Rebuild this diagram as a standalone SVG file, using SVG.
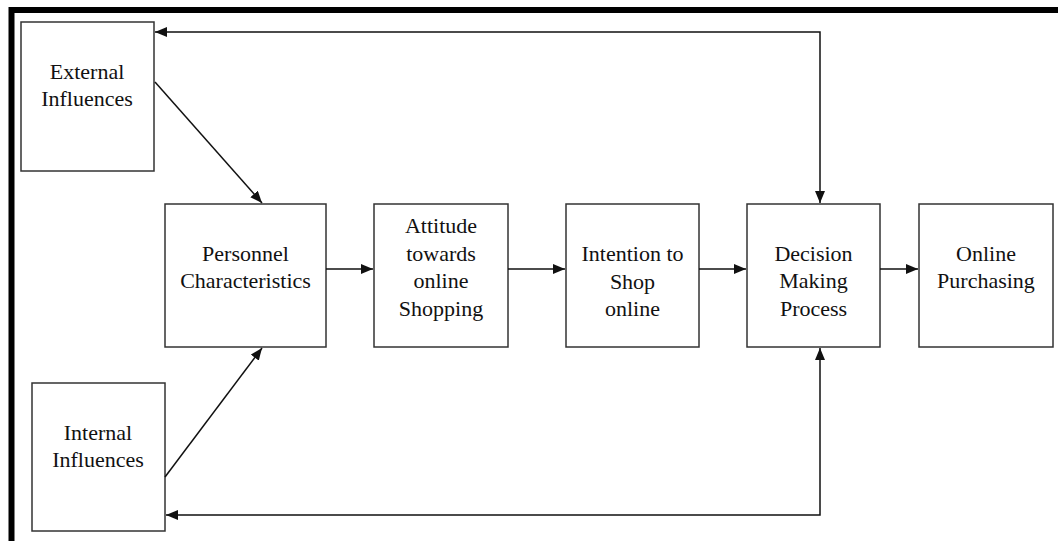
<svg xmlns="http://www.w3.org/2000/svg" width="1058" height="541" viewBox="0 0 1058 541">
  <style>
    .box { fill: #fff; stroke: #333; stroke-width: 1.5; }
    .lbl { font-family: "Liberation Serif", "Times New Roman", serif; font-size: 22px; fill: #111; text-anchor: middle; }
    .wire { fill: none; stroke: #111; stroke-width: 1.5; }
  </style>
  <defs>
    <marker id="head" viewBox="0 0 12 10" refX="12" refY="5" markerWidth="12" markerHeight="10" markerUnits="userSpaceOnUse" orient="auto-start-reverse">
      <path d="M0,0 L12,5 L0,10 z" fill="#111"/>
    </marker>
  </defs>
  <rect width="1058" height="541" fill="#fff"/>
  <!-- frame -->
  <path d="M11.5,541 V10 H1058" fill="none" stroke="#000" stroke-width="6"/>

  <g id="external">
    <rect class="box" x="21" y="22" width="133" height="149"/>
    <text class="lbl" x="87" y="79">External</text>
    <text class="lbl" x="87" y="106">Influences</text>
  </g>
  <g id="internal">
    <rect class="box" x="32" y="383" width="133" height="148"/>
    <text class="lbl" x="98" y="440">Internal</text>
    <text class="lbl" x="98" y="467">Influences</text>
  </g>
  <g id="personnel">
    <rect class="box" x="165" y="204" width="161" height="143"/>
    <text class="lbl" x="245.5" y="261">Personnel</text>
    <text class="lbl" x="245.5" y="288">Characteristics</text>
  </g>
  <g id="attitude">
    <rect class="box" x="374" y="204" width="134" height="143"/>
    <text class="lbl" x="441" y="233">Attitude</text>
    <text class="lbl" x="441" y="261">towards</text>
    <text class="lbl" x="441" y="288">online</text>
    <text class="lbl" x="441" y="316">Shopping</text>
  </g>
  <g id="intention">
    <rect class="box" x="566" y="204" width="133" height="143"/>
    <text class="lbl" x="632.5" y="261">Intention to</text>
    <text class="lbl" x="632.5" y="289">Shop</text>
    <text class="lbl" x="632.5" y="316">online</text>
  </g>
  <g id="decision">
    <rect class="box" x="747" y="204" width="133" height="143"/>
    <text class="lbl" x="813.5" y="261">Decision</text>
    <text class="lbl" x="813.5" y="288">Making</text>
    <text class="lbl" x="813.5" y="316">Process</text>
  </g>
  <g id="purchasing">
    <rect class="box" x="919" y="204" width="134" height="143"/>
    <text class="lbl" x="986" y="261">Online</text>
    <text class="lbl" x="986" y="288">Purchasing</text>
  </g>

  <g id="connectors">
    <line class="wire" x1="155" y1="82" x2="262" y2="203" marker-end="url(#head)"/>
    <line class="wire" x1="165" y1="477" x2="262" y2="348" marker-end="url(#head)"/>
    <line class="wire" x1="326" y1="269" x2="373" y2="269" marker-end="url(#head)"/>
    <line class="wire" x1="508" y1="269" x2="565" y2="269" marker-end="url(#head)"/>
    <line class="wire" x1="699" y1="269" x2="746" y2="269" marker-end="url(#head)"/>
    <line class="wire" x1="880" y1="269" x2="918" y2="269" marker-end="url(#head)"/>
    <path class="wire" d="M820,203 V32 H155" marker-start="url(#head)" marker-end="url(#head)"/>
    <path class="wire" d="M820,348 V515 H166" marker-start="url(#head)" marker-end="url(#head)"/>
  </g>
</svg>
